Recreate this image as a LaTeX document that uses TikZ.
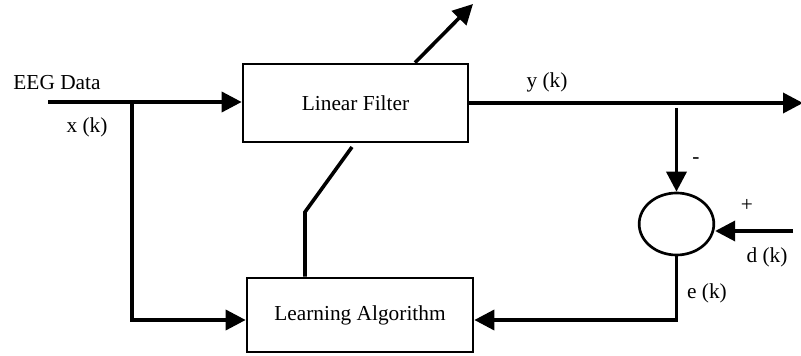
\documentclass[tikz,border=0pt]{standalone}
\usepackage{fontspec}
\setmainfont{Liberation Serif}
\usetikzlibrary{arrows.meta,shapes.geometric}
\begin{document}
\begin{tikzpicture}[x=0.75pt,y=-0.75pt,
  font=\fontsize{16}{19}\selectfont,
  block/.style={draw,line width=2pt,rectangle,inner sep=0pt},
  wire/.style={line width=2.7pt},
  flow/.style={wire,-{Triangle[length=15pt,width=15pt]}},
  lbl/.style={inner sep=0pt}]
\useasboundingbox (0,0) rectangle (801,356);

% blocks
\node[block,minimum width=168.75pt,minimum height=58.5pt] (LF) at (355.5,103) {Linear Filter};
\node[block,minimum width=169.5pt,minimum height=55.5pt] (LA) at (360,315) {Learning Algorithm};
\node[draw,line width=2pt,ellipse,inner sep=0pt,minimum width=56pt,minimum height=46.5pt] (S) at (676.5,224) {};

% labels
\node[lbl] (eeg) at (57,83) {EEG Data};
\node[lbl] (xk) at (87,127) {x (k)};
\node[lbl] (yk) at (547,82) {y (k)};
\node[lbl] (minus) at (696,161) {-};
\node[lbl] (plus) at (747,205) {+};
\node[lbl] (dk) at (767,257) {d (k)};
\node[lbl] (ek) at (707,293) {e (k)};

% helper points
\coordinate (in) at (48,102);
\coordinate (br) at (132,102);
\coordinate (out) at (803,103);
\coordinate (tap) at (676.5,108);
\coordinate (din) at (793,231);
\coordinate (fb) at (0,320);
\coordinate (adjtip) at (473,4);
\coordinate (adjbase) at (415,0);
\coordinate (knee) at (305,212);
\coordinate (ctrl) at (352,147);

% signal paths
\draw[wire] (in) -- (br);
\draw[flow] (br) -- (LF.west |- br);
\draw[flow] (br) |- (LA.west |- fb);
\draw[flow] (LF.east) -- (out);
\draw[flow] (tap) -- (S.north);
\draw[flow] (din) -- (S.east |- din);
\draw[flow] (S.south) |- (LA.east |- fb);

% adaptation
\draw[flow] (LF.north -| adjbase) -- (adjtip);
\draw[wire] (LA.north -| knee) -- (knee) -- (ctrl);
\end{tikzpicture}
\end{document}
